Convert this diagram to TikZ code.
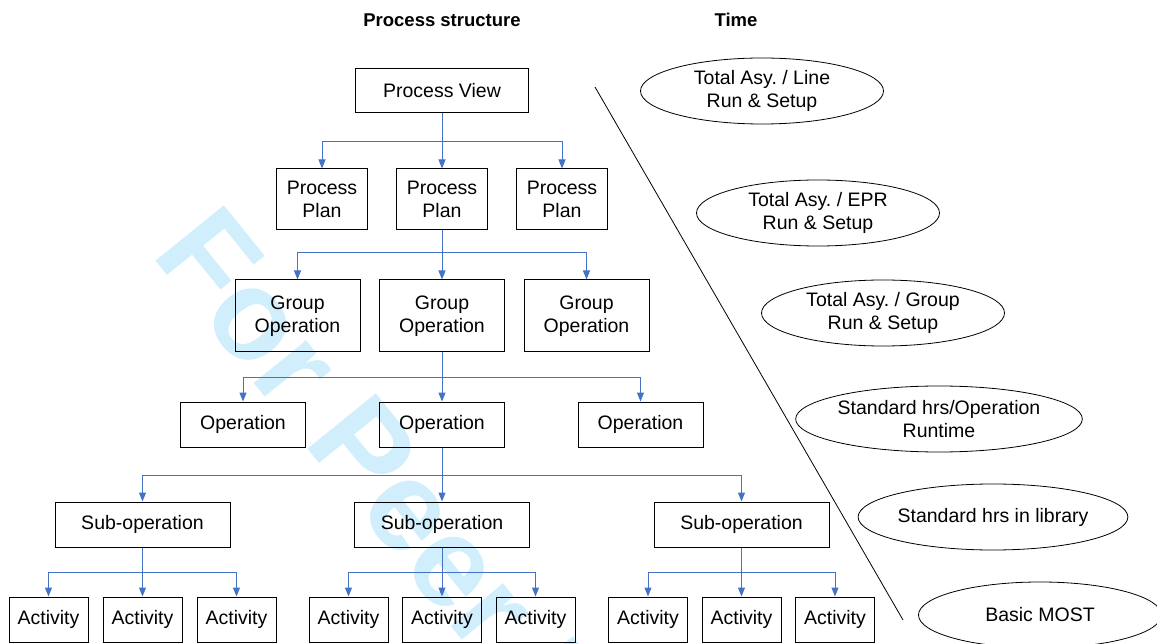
\documentclass[tikz,border=0pt]{standalone}
\usepackage{fontspec}
\setmainfont{Liberation Sans}
\usetikzlibrary{shapes,arrows.meta,positioning}
\definecolor{linkblue}{RGB}{68,114,196}
\definecolor{peercyan}{RGB}{208,238,252}
\frenchspacing

\begin{document}
\begin{tikzpicture}[x=1pt, y=-1pt,
  box/.style={draw, line width=1pt, align=center, inner sep=0pt, font=\fontsize{19.5}{23}\selectfont},
  oval/.style={ellipse, draw, line width=0.8pt, minimum width=243pt, minimum height=66pt, inner sep=0pt, align=center, font=\fontsize{19.5}{23}\selectfont},
  link/.style={-{Triangle[width=7pt,length=9pt]}, linkblue, line width=1pt},
  head/.style={font=\bfseries\fontsize{18.5}{22}\selectfont}]
	\clip (0,0) rectangle (1157,644);
	\node [text=peercyan, font=\bfseries\fontsize{128}{128}\selectfont, anchor=base west, rotate=-51] (peer) at (148,252) {For Peer Review};

	\node [head] (hstruct) at (442,20) {Process structure};
	\node [head] (htime) at (736,20) {Time};

	\node [box, minimum width=173pt, minimum height=44pt] (view) at (442,91) {Process View};
	\node [box, minimum width=91pt, minimum height=61pt] (plan2) [below of=view, node distance=108.5pt] {Process\\Plan};
	\node [box, minimum width=91pt, minimum height=61pt] (plan1) [left of=plan2, node distance=120pt] {Process\\Plan};
	\node [box, minimum width=91pt, minimum height=61pt] (plan3) [right of=plan2, node distance=120pt] {Process\\Plan};

	\node [box, minimum width=125pt, minimum height=72pt] (group2) [below of=plan2, node distance=116.5pt] {Group\\Operation};
	\node [box, minimum width=125pt, minimum height=72pt] (group1) [left of=group2, node distance=144.5pt] {Group\\Operation};
	\node [box, minimum width=125pt, minimum height=72pt] (group3) [right of=group2, node distance=144.5pt] {Group\\Operation};

	\node [box, minimum width=125pt, minimum height=45pt] (op2) [below of=group2, node distance=108.5pt] {Operation};
	\node [box, minimum width=125pt, minimum height=45pt] (op1) [left of=op2, node distance=199pt] {Operation};
	\node [box, minimum width=125pt, minimum height=45pt] (op3) [right of=op2, node distance=198.5pt] {Operation};

	\node [box, minimum width=175pt, minimum height=45pt] (sub2) [below of=op2, node distance=100pt] {Sub-operation};
	\node [box, minimum width=175pt, minimum height=45pt] (sub1) [left of=sub2, node distance=299.5pt] {Sub-operation};
	\node [box, minimum width=175pt, minimum height=45pt] (sub3) [right of=sub2, node distance=299.5pt] {Sub-operation};

	\node [box, minimum width=79pt, minimum height=45pt] (act12) [below of=sub1, node distance=95pt] {Activity};
	\node [box, minimum width=79pt, minimum height=45pt] (act11) [left of=act12, node distance=94pt] {Activity};
	\node [box, minimum width=79pt, minimum height=45pt] (act13) [right of=act12, node distance=94pt] {Activity};
	\node [box, minimum width=79pt, minimum height=45pt] (act22) [below of=sub2, node distance=95pt] {Activity};
	\node [box, minimum width=79pt, minimum height=45pt] (act21) [left of=act22, node distance=93.5pt] {Activity};
	\node [box, minimum width=79pt, minimum height=45pt] (act23) [right of=act22, node distance=93.5pt] {Activity};
	\node [box, minimum width=79pt, minimum height=45pt] (act32) [below of=sub3, node distance=95pt] {Activity};
	\node [box, minimum width=79pt, minimum height=45pt] (act31) [left of=act32, node distance=93.5pt] {Activity};
	\node [box, minimum width=79pt, minimum height=45pt] (act33) [right of=act32, node distance=93.5pt] {Activity};

	% tree links
	\draw [link] (view.south) -- ++(0,28) -| (plan1.north);
	\draw [link] (view) -- (plan2);
	\draw [link] (view.south) -- ++(0,28) -| (plan3.north);
	\draw [link] (plan2.south) -- ++(0,22) -| (group1.north);
	\draw [link] (plan2) -- (group2);
	\draw [link] (plan2.south) -- ++(0,22) -| (group3.north);
	\draw [link] (group2.south) -- ++(0,25) -| (op1.north);
	\draw [link] (group2) -- (op2);
	\draw [link] (group2.south) -- ++(0,25) -| (op3.north);
	\draw [link] (op2.south) -- ++(0,28) -| (sub1.north);
	\draw [link] (op2) -- (sub2);
	\draw [link] (op2.south) -- ++(0,28) -| (sub3.north);
	\draw [link] (sub1.south) -- ++(0,25) -| (act11.north);
	\draw [link] (sub1) -- (act12);
	\draw [link] (sub1.south) -- ++(0,25) -| (act13.north);
	\draw [link] (sub2.south) -- ++(0,25) -| (act21.north);
	\draw [link] (sub2) -- (act22);
	\draw [link] (sub2.south) -- ++(0,25) -| (act23.north);
	\draw [link] (sub3.south) -- ++(0,25) -| (act31.north);
	\draw [link] (sub3) -- (act32);
	\draw [link] (sub3.south) -- ++(0,25) -| (act33.north);

	% time side
	\coordinate (divtop) at (595,87);
	\coordinate (divbot) at (903,620);
	\draw [line width=0.8pt] (divtop) -- (divbot);
	\node [oval] (tline) at (762,91) {Total Asy. / Line\\Run \& Setup};
	\node [oval] (tepr) at (818,213) {Total Asy. / EPR\\Run \& Setup};
	\node [oval] (tgroup) at (883,313) {Total Asy. / Group\\Run \& Setup};
	\node [oval] (tstd) at (939,419) {Standard hrs/Operation\\Runtime};
	\node [oval] (tlib) at (993,517) {Standard hrs in library};
	\node [oval] (tmost) at (1040,615) {Basic MOST};
\end{tikzpicture}
\end{document}
